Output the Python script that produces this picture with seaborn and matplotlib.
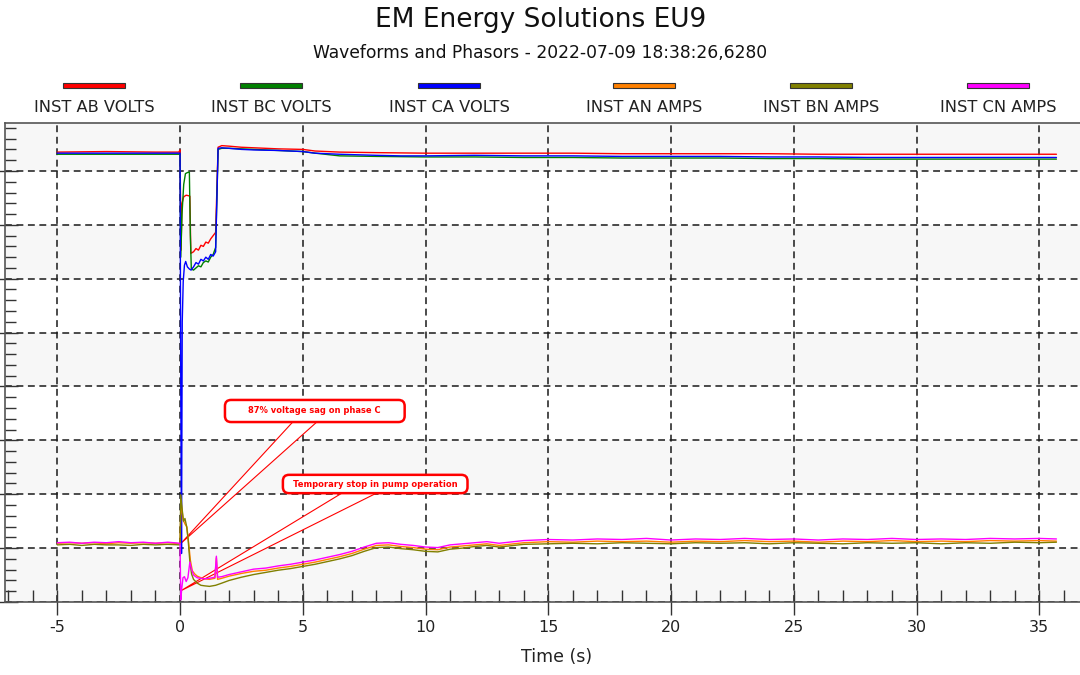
import pandas as pd
import matplotlib
matplotlib.use("Agg")
import matplotlib.pyplot as plt
import seaborn as sns
from matplotlib.ticker import MultipleLocator
from matplotlib.patches import Polygon, FancyBboxPatch, Rectangle

# readings in scope divisions (grid line = 1 div), time in seconds
AB_VOLTS = [(-5, 8.35), (-3, 8.36), (-1, 8.35), (-0.05, 8.35), (0.0, 8.39), (0.04, 6.53),
            (0.08, 7.40), (0.15, 7.52), (0.25, 7.55), (0.35, 7.54), (0.4, 7.53), (0.44, 6.47),
            (0.55, 6.50), (0.65, 6.56), (0.75, 6.53), (0.85, 6.62), (0.95, 6.60), (1.05, 6.68),
            (1.15, 6.66), (1.25, 6.74), (1.35, 6.80), (1.45, 6.86), (1.55, 8.44), (1.7, 8.47),
            (2.0, 8.46), (2.5, 8.44), (3.0, 8.43), (4.0, 8.41), (5.0, 8.40), (5.5, 8.37),
            (6.5, 8.35), (8, 8.34), (10, 8.33), (12, 8.33), (14, 8.33), (16, 8.33), (18, 8.32),
            (20, 8.32), (22, 8.32), (24, 8.32), (26, 8.31), (28, 8.31), (30, 8.31), (32, 8.31),
            (34, 8.31), (35.7, 8.31)]
BC_VOLTS = [(-5, 8.31), (-3, 8.31), (-1, 8.31), (-0.05, 8.31), (0.0, 8.31), (0.03, 6.40),
            (0.08, 7.20), (0.15, 7.75), (0.22, 7.95), (0.3, 7.97), (0.38, 7.98), (0.42, 6.80),
            (0.46, 6.18), (0.55, 6.16), (0.65, 6.20), (0.75, 6.24), (0.85, 6.22), (0.95, 6.30),
            (1.05, 6.33), (1.15, 6.31), (1.25, 6.40), (1.35, 6.45), (1.45, 6.58), (1.55, 8.40),
            (1.7, 8.42), (2.0, 8.42), (2.5, 8.41), (3.0, 8.40), (4.0, 8.38), (5.0, 8.36),
            (5.5, 8.33), (6.5, 8.28), (8, 8.27), (10, 8.26), (12, 8.26), (14, 8.25), (16, 8.25),
            (18, 8.24), (20, 8.24), (22, 8.24), (24, 8.23), (26, 8.23), (28, 8.22), (30, 8.22),
            (32, 8.22), (34, 8.22), (35.7, 8.22)]
CA_VOLTS = [(-5, 8.33), (-3, 8.33), (-1, 8.33), (-0.05, 8.33), (0.0, 8.33), (0.03, 4.0),
            (0.06, 0.9), (0.09, 5.2), (0.13, 5.95), (0.18, 6.25), (0.23, 6.32), (0.3, 6.22),
            (0.38, 6.18), (0.45, 6.16), (0.55, 6.22), (0.65, 6.30), (0.75, 6.27), (0.85, 6.36),
            (0.95, 6.33), (1.05, 6.40), (1.15, 6.36), (1.25, 6.45), (1.35, 6.42), (1.45, 6.50),
            (1.55, 8.42), (1.7, 8.43), (2.0, 8.42), (2.5, 8.40), (3.0, 8.39), (4.0, 8.38),
            (5.0, 8.36), (5.5, 8.33), (6.5, 8.31), (8, 8.29), (9, 8.28), (10, 8.28), (12, 8.29),
            (14, 8.28), (16, 8.28), (18, 8.27), (20, 8.27), (22, 8.27), (24, 8.26), (26, 8.26),
            (28, 8.25), (30, 8.25), (32, 8.25), (34, 8.25), (35.7, 8.25)]
AN_AMPS = [(-5, 1.09), (-4.5, 1.10), (-4, 1.09), (-3.5, 1.10), (-3, 1.08), (-2.5, 1.10),
           (-2, 1.09), (-1.5, 1.10), (-1, 1.09), (-0.5, 1.10), (0.0, 1.08), (0.04, 1.86),
           (0.08, 1.70), (0.13, 1.52), (0.2, 1.45), (0.28, 1.39), (0.35, 1.10), (0.42, 0.78),
           (0.5, 0.58), (0.6, 0.52), (0.7, 0.48), (0.85, 0.45), (1.0, 0.43), (1.2, 0.42),
           (1.42, 0.44), (1.48, 0.82), (1.53, 0.42), (1.7, 0.44), (2.0, 0.48), (2.5, 0.53),
           (3.0, 0.57), (3.5, 0.59), (4.0, 0.63), (4.5, 0.66), (5.0, 0.70), (5.5, 0.74),
           (6.0, 0.79), (6.5, 0.84), (7.0, 0.90), (7.5, 0.98), (8.0, 1.05), (8.5, 1.06),
           (9.0, 1.03), (9.5, 1.01), (10.0, 0.98), (10.5, 0.97), (11.0, 1.02), (11.5, 1.04),
           (12.0, 1.06), (12.5, 1.08), (13, 1.05), (14, 1.10), (15, 1.12), (16, 1.11),
           (17, 1.13), (18, 1.12), (19, 1.13), (20, 1.11), (21, 1.13), (22, 1.12), (23, 1.14),
           (24, 1.12), (25, 1.13), (26, 1.11), (27, 1.13), (28, 1.12), (29, 1.14), (30, 1.12),
           (31, 1.13), (32, 1.12), (33, 1.14), (34, 1.13), (35, 1.14), (35.7, 1.13)]
BN_AMPS = [(-5, 1.06), (-4.5, 1.07), (-4, 1.05), (-3.5, 1.07), (-3, 1.06), (-2.5, 1.06),
           (-2, 1.05), (-1.5, 1.07), (-1, 1.06), (-0.5, 1.07), (0.0, 1.06), (0.03, 1.99),
           (0.08, 1.75), (0.14, 1.50), (0.2, 1.55), (0.27, 1.40), (0.33, 1.15), (0.4, 0.75),
           (0.47, 0.52), (0.55, 0.42), (0.7, 0.35), (0.85, 0.31), (1.0, 0.30), (1.2, 0.29),
           (1.45, 0.31), (1.7, 0.35), (2.0, 0.40), (2.5, 0.46), (3.0, 0.51), (3.5, 0.55),
           (4.0, 0.59), (4.5, 0.62), (5.0, 0.66), (5.5, 0.70), (6.0, 0.75), (6.5, 0.80),
           (7.0, 0.86), (7.5, 0.94), (8.0, 1.01), (8.5, 1.02), (9.0, 0.99), (9.5, 0.97),
           (10.0, 0.94), (10.5, 0.93), (11.0, 0.98), (11.5, 1.00), (12.0, 1.03), (12.5, 1.05),
           (13, 1.02), (14, 1.07), (15, 1.08), (16, 1.09), (17, 1.08), (18, 1.10), (19, 1.09),
           (20, 1.08), (21, 1.10), (22, 1.09), (23, 1.10), (24, 1.08), (25, 1.10), (26, 1.09),
           (27, 1.08), (28, 1.10), (29, 1.09), (30, 1.10), (31, 1.08), (32, 1.10), (33, 1.09),
           (34, 1.11), (35, 1.10), (35.7, 1.11)]
CN_AMPS = [(-5, 1.10), (-4.5, 1.11), (-4, 1.09), (-3.5, 1.11), (-3, 1.10), (-2.5, 1.12),
           (-2, 1.10), (-1.5, 1.11), (-1, 1.09), (-0.5, 1.11), (0.0, 1.09), (0.03, 0.04),
           (0.07, 0.25), (0.12, 0.45), (0.18, 0.47), (0.25, 0.38), (0.32, 0.45), (0.4, 0.74),
           (0.46, 0.62), (0.55, 0.50), (0.7, 0.45), (0.85, 0.44), (1.0, 0.43), (1.2, 0.44),
           (1.42, 0.46), (1.48, 0.85), (1.53, 0.46), (1.7, 0.47), (2.0, 0.51), (2.5, 0.56),
           (3.0, 0.61), (3.5, 0.63), (4.0, 0.67), (4.5, 0.70), (5.0, 0.74), (5.5, 0.78),
           (6.0, 0.83), (6.5, 0.88), (7.0, 0.94), (7.5, 1.02), (8.0, 1.09), (8.5, 1.10),
           (9.0, 1.07), (9.5, 1.05), (10.0, 1.02), (10.5, 1.01), (11.0, 1.06), (11.5, 1.08),
           (12.0, 1.10), (12.5, 1.12), (13, 1.09), (14, 1.14), (15, 1.16), (16, 1.15),
           (17, 1.17), (18, 1.16), (19, 1.18), (20, 1.15), (21, 1.17), (22, 1.16), (23, 1.18),
           (24, 1.16), (25, 1.17), (26, 1.15), (27, 1.17), (28, 1.16), (29, 1.18), (30, 1.16),
           (31, 1.17), (32, 1.16), (33, 1.18), (34, 1.17), (35, 1.18), (35.7, 1.17)]

channels = ['INST AB VOLTS', 'INST BC VOLTS', 'INST CA VOLTS',
            'INST AN AMPS', 'INST BN AMPS', 'INST CN AMPS']
series = [AB_VOLTS, BC_VOLTS, CA_VOLTS, AN_AMPS, BN_AMPS, CN_AMPS]
colors = ['#ff0000', '#008000', '#0000ff', '#ff8000', '#808000', '#ff00ff']

rows = []
for name, pts in zip(channels, series):
    for t, v in pts:
        rows.append({'Time (s)': t, 'Value': v, 'Channel': name})
df = pd.DataFrame(rows)

sns.set_theme(style="white")
plt.rcParams['font.family'] = ['DejaVu Sans']
plt.rcParams['axes.unicode_minus'] = False

fig = plt.figure(figsize=(10.8, 6.75), dpi=100)
ax = fig.add_axes([5 / 1080, 73 / 675, 1 - 5 / 1080, 479 / 675])

# alternating bands behind the traces
for lo in [0, 2, 4, 6, 8]:
    ax.axhspan(lo, lo + 1, color='#f7f7f7', zorder=0, lw=0)

sns.lineplot(data=df, x='Time (s)', y='Value', hue='Channel', hue_order=channels,
             palette=dict(zip(channels, colors)), estimator=None, sort=False,
             legend=False, linewidth=1.0, ax=ax, zorder=3)

ax.set_xlim(-7.13, 36.66)
ax.set_ylim(0, 8.89)
ax.xaxis.set_major_locator(MultipleLocator(5))
ax.xaxis.set_minor_locator(MultipleLocator(1))
ax.yaxis.set_major_locator(MultipleLocator(1))
ax.yaxis.set_minor_locator(MultipleLocator(0.2))
ax.set_xlabel('')
ax.set_ylabel('')
ax.tick_params(axis='x', which='major', direction='inout', length=18, width=1,
               color='#333333', labelsize=11.5, labelcolor='#222222', pad=4, bottom=True)
ax.tick_params(axis='x', which='minor', direction='in', length=8.5, width=1,
               color='#333333', bottom=True)
ax.tick_params(axis='y', which='major', direction='inout', length=18, width=1,
               color='#333333', labelleft=False, left=True)
ax.tick_params(axis='y', which='minor', direction='in', length=8, width=1,
               color='#333333', left=True)
ax.grid(True, which='major', color='#1a1a1a', linestyle=(0, (4.5, 3)), linewidth=1.1)
ax.set_axisbelow(True)
ax.spines['right'].set_visible(False)
for s in ['top', 'left', 'bottom']:
    ax.spines[s].set_color('#555555')
    ax.spines[s].set_linewidth(1.2)

# callouts
callouts = [
    dict(text='87% voltage sag on phase C', box=(1.83, 3.34, 7.32, 0.41),
         base=(4.59, 5.57), tip=(0.04, 1.09)),
    dict(text='Temporary stop in pump operation', box=(4.19, 2.02, 7.52, 0.34),
         base=(6.59, 8.0), tip=(0.04, 0.21)),
]
for c in callouts:
    x0, y0, w, h = c['box']
    ax.add_patch(Polygon([(c['base'][0], y0), (c['base'][1], y0), c['tip']], closed=True,
                         fc='white', ec='red', lw=0.8, zorder=2))
    ax.add_patch(FancyBboxPatch((x0, y0), w, h, boxstyle='round,pad=0,rounding_size=0.25',
                                mutation_aspect=24.55 / 53.9, fc='white', ec='red',
                                lw=1.8, zorder=6))
    ax.text(x0 + w / 2, y0 + h / 2, c['text'], color='red', fontsize=6, fontweight='bold',
            ha='center', va='center', zorder=7)

# titles
fig.text(541 / 1080, 1 - 20 / 675, 'EM Energy Solutions EU9', fontsize=19,
         ha='center', va='center', color='#111111')
fig.text(540 / 1080, 1 - 53 / 675, 'Waveforms and Phasors - 2022-07-09 18:38:26,6280',
         fontsize=12.3, ha='center', va='center', color='#111111')
fig.text(557 / 1080, 1 - 657 / 675, 'Time (s)', fontsize=12.5, ha='center', va='center',
         color='#222222')

# legend: colour bar above each label
centers = [94, 271, 449, 644, 821, 998]
for cx, name, col in zip(centers, channels, colors):
    fig.patches.append(Rectangle(((cx - 31) / 1080, 1 - 87.5 / 675), 62 / 1080, 5 / 675,
                                 transform=fig.transFigure, fc=col, ec='#333333', lw=0.8))
    fig.text(cx / 1080, 1 - 108 / 675, name, fontsize=11.7, ha='center', va='center',
             color='#222222')

fig.savefig('out.png', dpi=100)
